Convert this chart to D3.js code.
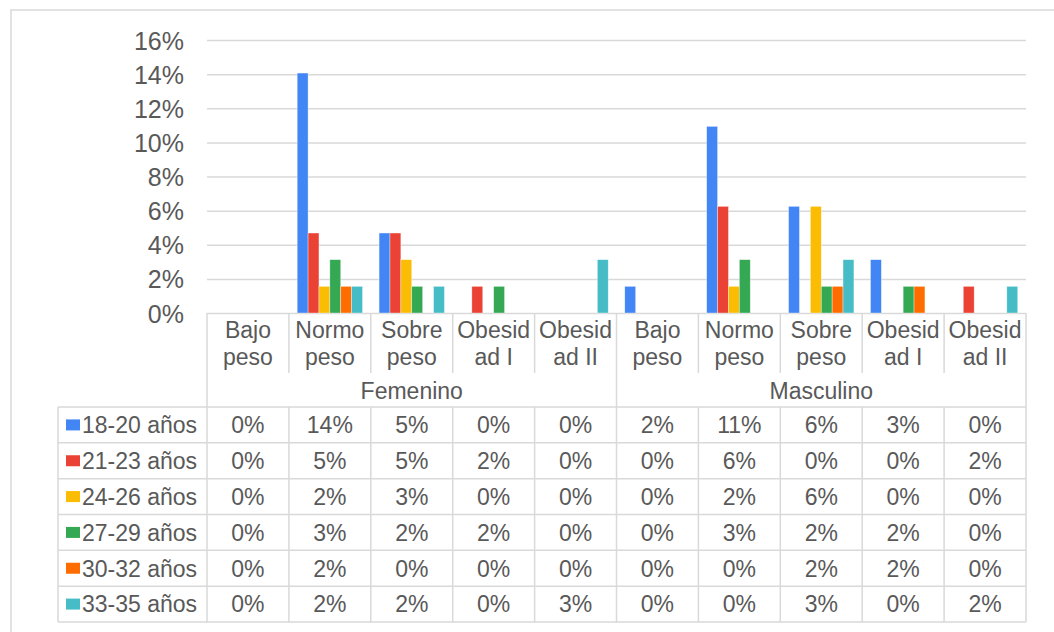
<!DOCTYPE html>
<html>
<head>
<meta charset="utf-8">
<script src="https://cdn.jsdelivr.net/npm/d3@7/dist/d3.min.js"></script>
<style>
  html, body { margin: 0; padding: 0; background: #fff; }
  svg { display: block; font-family: "Liberation Sans", Arial, sans-serif; }
</style>
</head>
<body>
<svg id="chart" width="1054" height="632"></svg>
<script>
// Sex groups and weight-status categories (x axis, two levels)
const groups = ["Femenino", "Masculino"];
const categories = ["Bajo peso", "Normo peso", "Sobre peso", "Obesidad I", "Obesidad II"];
// Category labels as they wrap inside the narrow table columns
const categoryLines = [["Bajo", "peso"], ["Normo", "peso"], ["Sobre", "peso"], ["Obesid", "ad I"], ["Obesid", "ad II"]];

// Age-range series
const seriesNames = ["18-20 años", "21-23 años", "24-26 años", "27-29 años", "30-32 años", "33-35 años"];
const seriesColors = ["#4285F4", "#EA4335", "#FBBC04", "#34A853", "#FF6D01", "#46BDC6"];

// Share of the sample per column: Femenino (5 categories) then Masculino (5 categories)
const age18_20 = [0, 0.140625, 0.046875, 0, 0,        0.015625, 0.109375, 0.0625, 0.03125, 0];
const age21_23 = [0, 0.046875, 0.046875, 0.015625, 0, 0, 0.0625, 0, 0, 0.015625];
const age24_26 = [0, 0.015625, 0.03125, 0, 0,         0, 0.015625, 0.0625, 0, 0];
const age27_29 = [0, 0.03125, 0.015625, 0.015625, 0,  0, 0.03125, 0.015625, 0.015625, 0];
const age30_32 = [0, 0.015625, 0, 0, 0,               0, 0, 0.015625, 0.015625, 0];
const age33_35 = [0, 0.015625, 0.015625, 0, 0.03125,  0, 0, 0.03125, 0, 0.015625];
const seriesValues = [age18_20, age21_23, age24_26, age27_29, age30_32, age33_35];

// Y axis ticks
const yTicks = [0, 0.02, 0.04, 0.06, 0.08, 0.10, 0.12, 0.14, 0.16];

const TEXT = "#595959";
const LINE = "#d9d9d9";

const svg = d3.select("#chart");
svg.append("rect").attr("width", 1054).attr("height", 632).attr("fill", "#fff");

// Chart frame
svg.append("rect")
  .attr("x", 11).attr("y", 10).attr("width", 1060).attr("height", 640)
  .attr("fill", "none").attr("stroke", LINE).attr("stroke-width", 1.5);

const plot = { left: 207, right: 1026, top: 40, bottom: 313 };
const table = { legendLeft: 58, headerBottom: 373, groupBottom: 407, bottom: 622 };

const columns = [];
groups.forEach(g => categories.forEach((c, i) => columns.push({ group: g, cat: c, lines: categoryLines[i], key: g + "|" + c })));

const x = d3.scaleBand().domain(columns.map(d => d.key)).range([plot.left, plot.right]).padding(0);
const xInner = d3.scaleBand().domain(seriesNames).range([0, x.bandwidth()]).paddingInner(0).paddingOuter(0.76);
const y = d3.scaleLinear().domain([0, 0.16]).range([plot.bottom, plot.top]);
const pct = d3.format(".0%");

// Gridlines and y tick labels
const yAxis = d3.axisLeft(y).tickValues(yTicks).tickFormat(pct)
  .tickSize(-(plot.right - plot.left)).tickPadding(23);
const ya = svg.append("g").attr("transform", `translate(${plot.left},0)`).call(yAxis);
ya.select(".domain").remove();
ya.selectAll(".tick line").attr("stroke", LINE).attr("stroke-width", 1.5);
ya.selectAll(".tick text").attr("fill", TEXT).attr("font-size", 25)
  .attr("font-family", "'Liberation Sans', Arial, sans-serif").attr("dy", "0.36em");

// Bars
const barData = [];
seriesNames.forEach((s, si) => {
  columns.forEach((col, ci) => {
    barData.push({ series: s, color: seriesColors[si], key: col.key, value: seriesValues[si][ci] });
  });
});
svg.append("g").selectAll("rect").data(barData.filter(d => d.value > 0)).join("rect")
  .attr("x", d => x(d.key) + xInner(d.series))
  .attr("y", d => y(d.value))
  .attr("width", xInner.bandwidth())
  .attr("height", d => y(0) - y(d.value))
  .attr("fill", d => d.color)
  .attr("stroke", "#fff").attr("stroke-width", 0.6).attr("stroke-opacity", 0.6);

// Data table lines
const lines = svg.append("g").attr("stroke", LINE).attr("stroke-width", 1.5);
const rowY = d3.scaleBand().domain(seriesNames).range([table.groupBottom, table.bottom]);
const boundaries = d3.range(columns.length + 1).map(i => plot.left + i * x.step());
boundaries.forEach((bx, i) => {
  if (i % categories.length === 0) {
    lines.append("line").attr("x1", bx).attr("x2", bx).attr("y1", plot.bottom).attr("y2", table.bottom);
  } else {
    lines.append("line").attr("x1", bx).attr("x2", bx).attr("y1", plot.bottom).attr("y2", table.headerBottom);
    lines.append("line").attr("x1", bx).attr("x2", bx).attr("y1", table.groupBottom).attr("y2", table.bottom);
  }
});
// Horizontal row rules
[table.groupBottom, ...seriesNames.map(s => rowY(s) + rowY.bandwidth())].forEach(ry => {
  lines.append("line").attr("x1", table.legendLeft).attr("x2", plot.right).attr("y1", ry).attr("y2", ry);
});
lines.append("line").attr("x1", table.legendLeft).attr("x2", table.legendLeft)
  .attr("y1", table.groupBottom).attr("y2", table.bottom);

const textG = svg.append("g").attr("fill", TEXT).attr("font-size", 23).attr("text-anchor", "middle");

// Category labels
columns.forEach(col => {
  const t = textG.append("text").attr("x", x(col.key) + x.bandwidth() / 2);
  col.lines.forEach((ln, li) => {
    t.append("tspan").attr("x", x(col.key) + x.bandwidth() / 2).attr("y", 337.5 + li * 27).text(ln);
  });
});

// Group labels
groups.forEach((g, gi) => {
  const first = x(g + "|" + categories[0]);
  const last = x(g + "|" + categories[categories.length - 1]) + x.bandwidth();
  textG.append("text").attr("x", (first + last) / 2).attr("y", 399).text(g);
});

// Legend column and values
seriesNames.forEach((s, si) => {
  const cy = rowY(s) + rowY.bandwidth() / 2;
  svg.append("rect").attr("x", 66).attr("y", cy - 5.5).attr("width", 14).attr("height", 11)
    .attr("fill", seriesColors[si]);
  svg.append("text").attr("x", 82).attr("y", cy).attr("dy", "0.36em")
    .attr("fill", TEXT).attr("font-size", 23).text(s);
  columns.forEach((col, ci) => {
    textG.append("text").attr("x", x(col.key) + x.bandwidth() / 2).attr("y", cy).attr("dy", "0.36em")
      .text(pct(seriesValues[si][ci]));
  });
});
</script>
</body>
</html>
